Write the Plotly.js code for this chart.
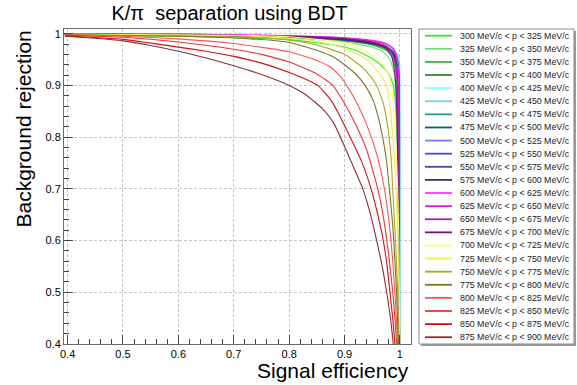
<!DOCTYPE html>
<html><head><meta charset="utf-8">
<script src="https://cdn.plot.ly/plotly-3.0.1.min.js"></script>
<style>html,body{margin:0;padding:0;background:#fff;}#chart{width:577px;height:385px;}</style>
</head><body><div id="chart"></div>
<script>
// ---- data ----
const momentumBins = ["300","325","350","375","400","425","450","475","500","525","550","575",
                      "600","625","650","675","700","725","750","775","800","825","850","875","900"];
const xTickVals = [0.4,0.5,0.6,0.7,0.8,0.9,1.0];
const yTickVals = [0.4,0.5,0.6,0.7,0.8,0.9,1.0];

const eff300 = [0.395,0.6,0.8,0.88,0.92,0.95,0.97,0.98,0.988,0.993,0.996,0.998,0.9995];
const rej300 = [0.998,0.995,0.988,0.978,0.968,0.952,0.935,0.922,0.90,0.85,0.75,0.6,0.4];
const eff325 = [0.395,0.6,0.8,0.9,0.95,0.97,0.982,0.99,0.994,0.997,0.999];
const rej325 = [0.999,0.997,0.991,0.984,0.974,0.965,0.95,0.92,0.85,0.65,0.4];
const eff350 = [0.395,0.6,0.8,0.9,0.95,0.975,0.986,0.992,0.995,0.998,0.9995];
const rej350 = [0.999,0.997,0.992,0.986,0.978,0.968,0.955,0.93,0.85,0.6,0.4];
const eff375 = [0.395,0.6,0.8,0.9,0.95,0.975,0.987,0.993,0.996,0.998,0.9995];
const rej375 = [0.999,0.997,0.993,0.987,0.979,0.970,0.958,0.935,0.85,0.6,0.4];
const eff400 = [0.395,0.6,0.8,0.9,0.95,0.975,0.99,0.996,0.999,1.0,1.0];
const rej400 = [0.999,0.998,0.994,0.989,0.982,0.975,0.966,0.96,0.95,0.9,0.4];
const eff425 = [0.395,0.6,0.8,0.9,0.95,0.975,0.99,0.996,0.999,1.0,0.9995];
const rej425 = [0.999,0.998,0.994,0.988,0.981,0.974,0.964,0.958,0.945,0.88,0.4];
const eff450 = [0.395,0.6,0.8,0.9,0.95,0.975,0.99,0.995,0.998,0.9995,0.9995];
const rej450 = [0.999,0.998,0.994,0.988,0.981,0.973,0.962,0.952,0.93,0.8,0.4];
const eff475 = [0.395,0.6,0.8,0.9,0.95,0.975,0.99,0.995,0.998,0.999,0.999];
const rej475 = [0.999,0.998,0.994,0.988,0.98,0.972,0.96,0.95,0.925,0.78,0.4];
const eff500 = [0.395,0.6,0.8,0.9,0.95,0.975,0.988,0.993,0.996,0.998,0.999];
const rej500 = [0.999,0.998,0.994,0.989,0.983,0.975,0.963,0.945,0.9,0.7,0.4];
const eff525 = [0.395,0.6,0.8,0.9,0.95,0.975,0.988,0.993,0.996,0.998,0.999];
const rej525 = [0.999,0.998,0.994,0.989,0.983,0.976,0.965,0.948,0.9,0.7,0.4];
const eff550 = [0.395,0.6,0.8,0.9,0.95,0.975,0.988,0.994,0.997,0.998,0.999];
const rej550 = [0.999,0.998,0.994,0.988,0.982,0.975,0.963,0.945,0.9,0.75,0.4];
const eff575 = [0.395,0.6,0.8,0.9,0.95,0.975,0.988,0.994,0.997,0.998,0.9985];
const rej575 = [0.999,0.998,0.994,0.988,0.981,0.974,0.961,0.943,0.9,0.75,0.4];
const eff600 = [0.395,0.6,0.8,0.9,0.95,0.975,0.988,0.994,0.997,0.998,0.999];
const rej600 = [1.0,0.999,0.996,0.992,0.987,0.981,0.972,0.958,0.93,0.8,0.4];
const eff625 = [0.395,0.6,0.8,0.9,0.95,0.975,0.988,0.994,0.997,0.998,0.999];
const rej625 = [0.999,0.999,0.996,0.992,0.986,0.98,0.97,0.955,0.92,0.78,0.4];
const eff650 = [0.395,0.6,0.8,0.9,0.95,0.975,0.986,0.992,0.996,0.998,0.9995];
const rej650 = [0.999,0.998,0.995,0.99,0.984,0.976,0.962,0.94,0.9,0.75,0.4];
const eff675 = [0.395,0.6,0.8,0.9,0.95,0.975,0.985,0.991,0.994,0.997,0.9995];
const rej675 = [0.999,0.998,0.995,0.99,0.983,0.972,0.956,0.92,0.867,0.7,0.4];
const eff700 = [0.395,0.7,0.8,0.9,0.94,0.965,0.978,0.985,0.989,0.992,0.996,0.998,0.999,1.0];
const rej700 = [0.999,0.997,0.994,0.982,0.965,0.945,0.925,0.90,0.85,0.80,0.70,0.60,0.50,0.40];
const eff725 = [0.395,0.7,0.8,0.85,0.9,0.94,0.962,0.976,0.982,0.988,0.993,0.996,0.998,0.999];
const rej725 = [0.998,0.996,0.991,0.985,0.972,0.95,0.925,0.90,0.86,0.79,0.70,0.60,0.50,0.40];
const eff750 = [0.395,0.7,0.8,0.85,0.9,0.93,0.945,0.958,0.97,0.978,0.984,0.987,0.991,0.994,0.996,0.998];
const rej750 = [0.998,0.994,0.988,0.978,0.96,0.937,0.92,0.90,0.865,0.82,0.76,0.70,0.62,0.55,0.50,0.40];
const eff775 = [0.395,0.6,0.73,0.8,0.85,0.88,0.9,0.92,0.937,0.952,0.965,0.975,0.981,0.987,0.991,0.994,0.997];
const rej775 = [0.998,0.995,0.99,0.983,0.968,0.955,0.94,0.922,0.90,0.87,0.82,0.76,0.70,0.63,0.56,0.50,0.40];
const eff800 = [0.395,0.5,0.6,0.7,0.8,0.85,0.875,0.892,0.904,0.925,0.945,0.96,0.972,0.981,0.987,0.991,0.996];
const rej800 = [0.998,0.995,0.99,0.981,0.965,0.948,0.935,0.918,0.90,0.86,0.81,0.76,0.70,0.63,0.56,0.50,0.40];
const eff825 = [0.395,0.5,0.6,0.7,0.75,0.8,0.85,0.879,0.9,0.92,0.94,0.96,0.971,0.98,0.987,0.991,0.994];
const rej825 = [0.997,0.993,0.984,0.970,0.96,0.945,0.922,0.90,0.865,0.825,0.775,0.70,0.64,0.57,0.50,0.45,0.40];
const eff850 = [0.395,0.5,0.6,0.65,0.7,0.75,0.8,0.83,0.852,0.875,0.892,0.91,0.93,0.948,0.96,0.97,0.977,0.982,0.987,0.991];
const rej850 = [0.996,0.989,0.974,0.966,0.956,0.943,0.925,0.912,0.90,0.872,0.84,0.80,0.755,0.70,0.65,0.60,0.55,0.50,0.45,0.40];
const eff875 = [0.395,0.45,0.5,0.55,0.6,0.65,0.7,0.75,0.8,0.83,0.86,0.88,0.90,0.915,0.933,0.947,0.958,0.968,0.976,0.983,0.988];
const rej875 = [0.995,0.991,0.986,0.977,0.966,0.953,0.938,0.921,0.90,0.882,0.855,0.828,0.782,0.745,0.70,0.65,0.60,0.55,0.50,0.45,0.40];

const effSeries = [eff300,eff325,eff350,eff375,eff400,eff425,eff450,eff475,eff500,eff525,eff550,eff575,
                   eff600,eff625,eff650,eff675,eff700,eff725,eff750,eff775,eff800,eff825,eff850,eff875];
const rejSeries = [rej300,rej325,rej350,rej375,rej400,rej425,rej450,rej475,rej500,rej525,rej550,rej575,
                   rej600,rej625,rej650,rej675,rej700,rej725,rej750,rej775,rej800,rej825,rej850,rej875];

// ---- styles ----
const colors = ['#22ee22','#77dd77','#33bb33','#338833',
                '#88ffff','#66dddd','#229999','#006666',
                '#7777ff','#4444ee','#4444aa','#333366',
                '#ff33ff','#ee11ee','#aa22aa','#771177',
                '#ffff66','#eeee55','#aaaa22','#777722',
                '#ff5555','#ee3333','#cc1111','#8c2e2e'];

const W=577,H=385,ML=64,MR=166,MT=29,MB=41;
const PW=W-ML-MR, PH=H-MT-MB;
const pxX = px => (px-ML)/PW;
const pxY = py => (H-MB-py)/PH;
const FONT = 'Liberation Sans, Arial, Helvetica, sans-serif';

const labels = momentumBins.slice(0,-1).map((lo,i)=> lo+' MeV/c &lt; p &lt; '+momentumBins[i+1]+' MeV/c');

const traces = effSeries.map((xs,i)=>({
  type:'scatter', mode:'lines', x:xs, y:rejSeries[i], name:labels[i],
  line:{color:colors[i], width:1.1, shape:'spline', smoothing:0.5}, showlegend:false, hoverinfo:'skip'
}));

const shapes = [
  {type:'rect', xref:'paper', yref:'paper', x0:pxX(421), x1:pxX(576), y0:pxY(346), y1:pxY(31),
   fillcolor:'#9a9a9a', line:{width:0}, layer:'above'},
  {type:'rect', xref:'paper', yref:'paper', x0:pxX(419), x1:pxX(574), y0:pxY(344), y1:pxY(29),
   fillcolor:'#ffffff', line:{color:'#8a8a8a', width:1}, layer:'above'}
];
const annotations = [];
labels.forEach((lab,i)=>{
  const py = 35.7 + i*13.11;
  shapes.push({type:'line', xref:'paper', yref:'paper', x0:pxX(425), x1:pxX(452), y0:pxY(py), y1:pxY(py),
               line:{color:colors[i], width:1.8}, layer:'above'});
  annotations.push({xref:'paper', yref:'paper', x:pxX(457.5), y:pxY(py), xanchor:'left', yanchor:'middle',
                    text:lab, showarrow:false, font:{family:FONT, size:8.8, color:'#1a1a1a'}});
});
annotations.push({xref:'paper', yref:'paper', x:pxX(411), y:pxY(370), xanchor:'right', yanchor:'middle',
                  text:'Signal efficiency', showarrow:false, font:{family:FONT, size:21, color:'#000'}});
annotations.push({xref:'paper', yref:'paper', x:pxX(23), y:pxY(29), xanchor:'center', yanchor:'top',
                  text:'Background rejection', textangle:-90, showarrow:false, font:{family:FONT, size:21, color:'#000'}});

const axisCommon = {
  showline:true, mirror:true, linecolor:'#6a6a6a', linewidth:1,
  showgrid:true, gridcolor:'#c4c4c4', griddash:'3px,2px', gridwidth:1,
  zeroline:false, ticks:'inside', tickcolor:'#444', ticklen:9, tickwidth:1,
  tickfont:{family:FONT, size:11, color:'#000'}, tickmode:'array',
  minor:{dtick:0.02, ticks:'inside', ticklen:5, tickcolor:'#444', showgrid:false}
};

const layout = {
  width:W, height:H, margin:{l:ML, r:MR, t:MT, b:MB},
  paper_bgcolor:'#fff', plot_bgcolor:'#fff',
  title:{text:'K/π\u00a0 separation using BDT', font:{family:FONT, size:20, color:'#000'},
         x:229.5/W, xanchor:'center', y:1-12.5/H, yanchor:'middle'},
  xaxis:Object.assign({}, axisCommon, {range:[0.3935,1.02], tickvals:xTickVals, ticktext:xTickVals.map(v=>v===1?'1':v.toFixed(1)),
         minor:Object.assign({}, axisCommon.minor, {tick0:0.4})}),
  yaxis:Object.assign({}, axisCommon, {range:[0.4,1.009], tickvals:yTickVals, ticktext:yTickVals.map(v=>v===1?'1':v.toFixed(1)),
         minor:Object.assign({}, axisCommon.minor, {tick0:0.4})}),
  shapes:shapes, annotations:annotations, showlegend:false
};

Plotly.newPlot('chart', traces, layout, {staticPlot:true, displayModeBar:false});
</script></body></html>
